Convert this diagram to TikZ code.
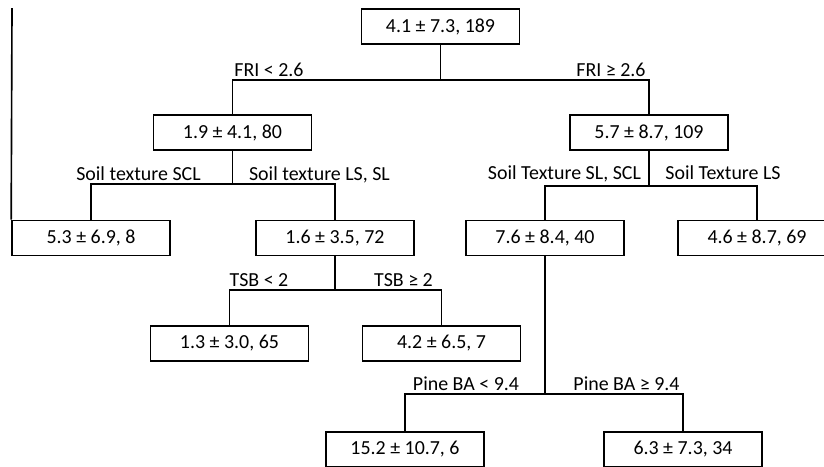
\documentclass[tikz,border=0pt]{standalone}
\usepackage{fontspec}
\setmainfont{Carlito}
\usetikzlibrary{positioning}

\begin{document}
\begin{tikzpicture}[x=0.03cm, y=-0.03cm, line width=1.4pt,
  box/.style={draw, minimum width=4.74cm, minimum height=1.05cm, inner sep=0pt,
    font=\fontsize{17}{20}\selectfont},
  lbl/.style={anchor=base, inner sep=0pt, font=\fontsize{17}{20}\selectfont}]
\useasboundingbox (0,0) rectangle (824,466);
\clip (0,0) rectangle (824,466);
% nodes of the tree
\node [box] (root) at (440.5,26.5) {4.1 ± 7.3, 189};
\node [box] (fri1) at (232.5,132.5) {1.9 ± 4.1, 80};
\node [box] (fri2) at (649,132.5) {5.7 ± 8.7, 109};
\node [box] (scl) at (91,238) {5.3 ± 6.9, 8};
\node [box] (lssl) at (335,238) {1.6 ± 3.5, 72};
\node [box] (slscl) at (545,238) {7.6 ± 8.4, 40};
\node [box] (ls) at (757,238) {4.6 ± 8.7, 69};
\node [box] (tsb1) at (229.5,343.5) {1.3 ± 3.0, 65};
\node [box] (tsb2) at (441.5,343.5) {4.2 ± 6.5, 7};
\node [box] (pine1) at (405,449.5) {15.2 ± 10.7, 6};
\node [box] (pine2) at (683,449.5) {6.3 ± 7.3, 34};
% splits
\coordinate (j0) at (440.5,80);
\coordinate (j1) at (232.5,184);
\coordinate (j2) at (649,186);
\coordinate (j3) at (335,290);
\coordinate (j4) at (545,394);
\draw (root.south) -- (j0) -| (fri1.north);
\draw (j0) -| (fri2.north);
\draw (fri1.south) -- (j1) -| (scl.north);
\draw (j1) -| (lssl.north);
\draw (fri2.south) -- (j2) -| (slscl.north);
\draw (j2) -| (ls.north);
\draw (lssl.south) -- (j3) -| (tsb1.north);
\draw (j3) -| (tsb2.north);
\draw (slscl.south) -- (j4) -| (pine1.north);
\draw (j4) -| (pine2.north);
\coordinate (frame) at (12,8);
\draw (frame) -- (scl.north west);
% labels
\node [lbl] (l0a) at (269,76) {FRI < 2.6};
\node [lbl] (l0b) at (611,76) {FRI ≥ 2.6};
\node [lbl] (l1a) at (138.5,180) {Soil texture SCL};
\node [lbl] (l1b) at (319.5,180) {Soil texture LS, SL};
\node [lbl] (l2a) at (564.5,179) {Soil Texture SL, SCL};
\node [lbl] (l2b) at (723,179) {Soil Texture LS};
\node [lbl] (l3a) at (259,286) {TSB < 2};
\node [lbl] (l3b) at (403.5,286) {TSB ≥ 2};
\node [lbl] (l4a) at (466,390) {Pine BA < 9.4};
\node [lbl] (l4b) at (626.5,390) {Pine BA ≥ 9.4};
\end{tikzpicture}
\end{document}
